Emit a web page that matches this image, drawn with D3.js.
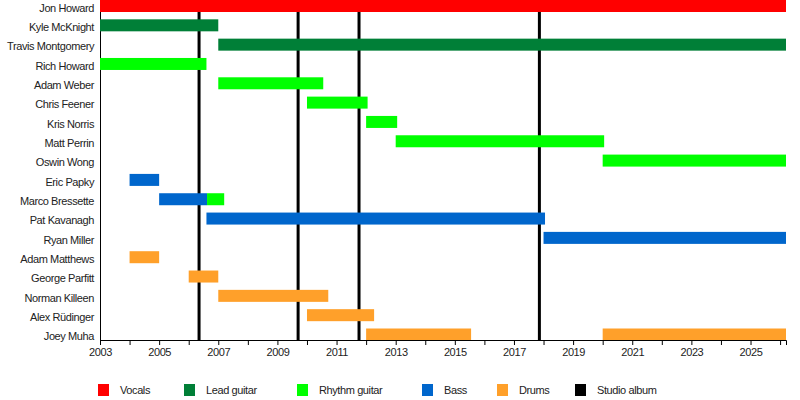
<!DOCTYPE html>
<html>
<head>
	<script src="https://cdn.jsdelivr.net/npm/d3@7/dist/d3.min.js"></script>
	<style>
		html, body {
			padding: 0;
			margin: 0;
			background: #fff;
		}
		text {
			font-family: Arial, "Liberation Sans", sans-serif;
			font-size: 11px;
			letter-spacing: -0.4px;
			fill: #222;
		}
	</style>
</head>
<body>
	<script>
		var width = 800, height = 400;

		/* data */
		var END = 2026.2;
		var members = ["Jon Howard", "Kyle McKnight", "Travis Montgomery", "Rich Howard",
		               "Adam Weber", "Chris Feener", "Kris Norris", "Matt Perrin", "Oswin Wong",
		               "Eric Papky", "Marco Bressette", "Pat Kavanagh", "Ryan Miller",
		               "Adam Matthews", "George Parfitt", "Norman Killeen", "Alex R\u00fcdinger", "Joey Muha"];
		var roles = ["Vocals", "Lead guitar", "Rhythm guitar", "Bass", "Drums", "Studio album"];
		var roleColors = ["#ff0000", "#007f37", "#00ff00", "#0066cc", "#ffa02a", "#000000"];
		// member, role, start, end
		var periods = [
			["Jon Howard", "Vocals", 2003, END],
			["Kyle McKnight", "Lead guitar", 2003, 2007.0],
			["Travis Montgomery", "Lead guitar", 2007.0, END],
			["Rich Howard", "Rhythm guitar", 2003, 2006.6],
			["Adam Weber", "Rhythm guitar", 2007.0, 2010.55],
			["Chris Feener", "Rhythm guitar", 2010.0, 2012.05],
			["Kris Norris", "Rhythm guitar", 2012.0, 2013.05],
			["Matt Perrin", "Rhythm guitar", 2013.0, 2020.05],
			["Oswin Wong", "Rhythm guitar", 2020.0, END],
			["Eric Papky", "Bass", 2004.0, 2005.0],
			["Marco Bressette", "Bass", 2005.0, 2006.62],
			["Marco Bressette", "Rhythm guitar", 2006.62, 2007.2],
			["Pat Kavanagh", "Bass", 2006.6, 2018.05],
			["Ryan Miller", "Bass", 2018.0, END],
			["Adam Matthews", "Drums", 2004.0, 2005.0],
			["George Parfitt", "Drums", 2006.0, 2007.0],
			["Norman Killeen", "Drums", 2007.0, 2010.72],
			["Alex R\u00fcdinger", "Drums", 2010.0, 2012.27],
			["Joey Muha", "Drums", 2012.0, 2015.55],
			["Joey Muha", "Drums", 2020.0, END]
		];
		var albums = [2006.35, 2009.7, 2011.76, 2017.86];
		var yearTicks = d3.range(2003, 2027);

		var svg = d3.select("body").append("svg")
			.attr("width", width)
			.attr("height", height);

		var x = d3.scaleLinear().domain([2003, END]).range([100, 786]);
		var y = d3.scalePoint().domain(members).range([6, 334.5]);
		var color = d3.scaleOrdinal().domain(roles).range(roleColors);
		var barH = 12;
		var axisY = 340;

		/* left axis line */
		svg.append("line")
			.attr("x1", 100.5).attr("x2", 100.5)
			.attr("y1", 0).attr("y2", axisY)
			.attr("stroke", "#000").attr("stroke-width", 1);

		/* studio album lines, under the bars */
		svg.selectAll(".album").data(albums).enter().append("line")
			.attr("class", "album")
			.attr("x1", function(d) { return x(d); })
			.attr("x2", function(d) { return x(d); })
			.attr("y1", 0).attr("y2", axisY)
			.attr("stroke", "#000").attr("stroke-width", 3);

		/* membership bars */
		svg.selectAll(".bar").data(periods).enter().append("rect")
			.attr("class", "bar")
			.attr("x", function(d) { return x(d[2]); })
			.attr("width", function(d) { return x(d[3]) - x(d[2]); })
			.attr("y", function(d) { return y(d[0]) - barH / 2; })
			.attr("height", barH)
			.attr("fill", function(d) { return color(d[1]); });

		/* member names */
		svg.selectAll(".name").data(members).enter().append("text")
			.attr("class", "name")
			.attr("x", 94)
			.attr("y", function(d) { return y(d) + 1.8; })
			.attr("dy", "0.35em")
			.attr("text-anchor", "end")
			.text(function(d) { return d; });

		/* bottom axis */
		var axis = d3.axisBottom(x)
			.tickValues(yearTicks)
			.tickSize(5)
			.tickFormat(function(d) { return (d % 2 === 1) ? d : ""; });
		var gAxis = svg.append("g")
			.attr("transform", "translate(0," + axisY + ")")
			.call(axis);
		gAxis.select(".domain").attr("stroke", "#000");
		gAxis.selectAll(".tick line").attr("stroke", "#000");
		gAxis.selectAll(".tick text")
			.attr("y", 8)
			.style("font-family", "Arial, 'Liberation Sans', sans-serif")
			.style("font-size", "11px")
			.attr("fill", "#222");

		/* legend */
		var legendX = [98, 184, 297, 422, 497, 575];
		var legend = svg.selectAll(".legend").data(roles).enter().append("g")
			.attr("class", "legend")
			.attr("transform", function(d, i) { return "translate(" + legendX[i] + ",384)"; });
		legend.append("rect")
			.attr("width", 11).attr("height", 12)
			.attr("fill", function(d) { return color(d); });
		legend.append("text")
			.attr("x", 22).attr("y", 6)
			.attr("dy", "0.35em")
			.text(function(d) { return d; });
	</script>
</body>
</html>
